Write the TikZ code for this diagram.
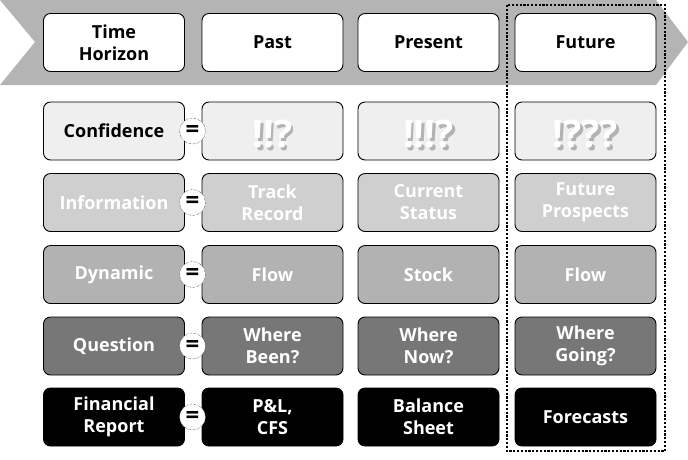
\documentclass[tikz,border=0pt]{standalone}
\usepackage{fontspec}
\setmainfont{Open Sans}
\usepackage{xcolor}
\definecolor{bandgray}{HTML}{B4B4B4}
\definecolor{confgray}{HTML}{EFEFEF}
\definecolor{infogray}{HTML}{CFCFCF}
\definecolor{dyngray}{HTML}{B2B2B2}
\definecolor{quesgray}{HTML}{777777}

\begin{document}
\begin{tikzpicture}[x=1pt, y=-1pt,
	cell/.style={draw=black, line width=0.9pt, rounded corners=7pt, align=center, minimum width=141pt, minimum height=58pt, inner sep=0pt, font=\bfseries\fontsize{18}{22}\selectfont},
	head/.style={cell, fill=white, text=black},
	conf/.style={cell, fill=confgray, text=black},
	info/.style={cell, fill=infogray, text=white},
	dyn/.style={cell, fill=dyngray, text=white},
	ques/.style={cell, fill=quesgray, text=white},
	fin/.style={cell, fill=black, text=white},
	eq/.style={circle, draw=black, densely dotted, thin, fill=white, minimum size=26pt, inner sep=0pt, font=\bfseries\fontsize{24}{24}\selectfont},
	bang/.style={font=\bfseries\fontsize{38}{38}\selectfont, inner sep=0pt, text=white},
	bangshade/.style={bang, text=black, opacity=0.25}]
	\useasboundingbox (0,0) rectangle (688,459);
	% time band
	\fill[bandgray] (0,0) -- (656,0) -- (688,42) -- (656,85) -- (0,85) -- (35,42) -- cycle;
	% future column frame
	\draw[line width=2.4pt, dash pattern=on 2.2pt off 1.6pt] (507,5) rectangle (665,451);
	
	\node (horizon) at (114,42.5) [head] {Time\\Horizon};
	\node (past) at (272.5,42.5) [head] {Past};
	\node (present) at (428.5,42.5) [head] {Present};
	\node (future) at (585.5,42.5) [head] {Future};
	
	\node (confidence) at (114,131) [conf] {Confidence};
	\node (confpast) at (272.5,131) [conf] {};
	\node (confpresent) at (428.5,131) [conf] {};
	\node (conffuture) at (585.5,131) [conf] {};
	
	\node (information) at (114,202.5) [info] {Information};
	\node (track) at (272.5,202.5) [info] {Track\\Record};
	\node (current) at (428.5,202.5) [info] {Current\\Status};
	\node (prospects) at (585.5,202.5) [info] {Future\\Prospects};
	
	\node (dynamic) at (114,274.5) [dyn] {Dynamic};
	\node (flowpast) at (272.5,274.5) [dyn] {Flow};
	\node (stock) at (428.5,274.5) [dyn] {Stock};
	\node (flowfuture) at (585.5,274.5) [dyn] {Flow};
	
	\node (question) at (114,346) [ques] {Question};
	\node (been) at (272.5,346) [ques] {Where\\Been?};
	\node (now) at (428.5,346) [ques] {Where\\Now?};
	\node (going) at (585.5,346) [ques] {Where\\Going?};
	
	\node (report) at (114,417) [fin] {Financial\\Report};
	\node (pl) at (272.5,417) [fin] {P\&L,\\CFS};
	\node (balance) at (428.5,417) [fin] {Balance\\Sheet};
	\node (forecasts) at (585.5,417) [fin] {Forecasts};
	
	% confidence marks with soft shadow
	\node (pastshade) at (275,137) [bangshade] {!!?};
	\node (presentshade) at (431,137) [bangshade] {!!!?};
	\node (futureshade) at (588,137) [bangshade] {!???};
	\node (pastbang) at (272.5,134) [bang] {!!?};
	\node (presentbang) at (428.5,134) [bang] {!!!?};
	\node (futurebang) at (585.5,134) [bang] {!???};
	
	\node (eqconf) at (192.5,131) [eq] {=};
	\node (eqinfo) at (192.5,202.5) [eq] {=};
	\node (eqdyn) at (192.5,274.5) [eq] {=};
	\node (eqques) at (192.5,346) [eq] {=};
	\node (eqfin) at (192.5,417) [eq] {=};
\end{tikzpicture}
\end{document}
